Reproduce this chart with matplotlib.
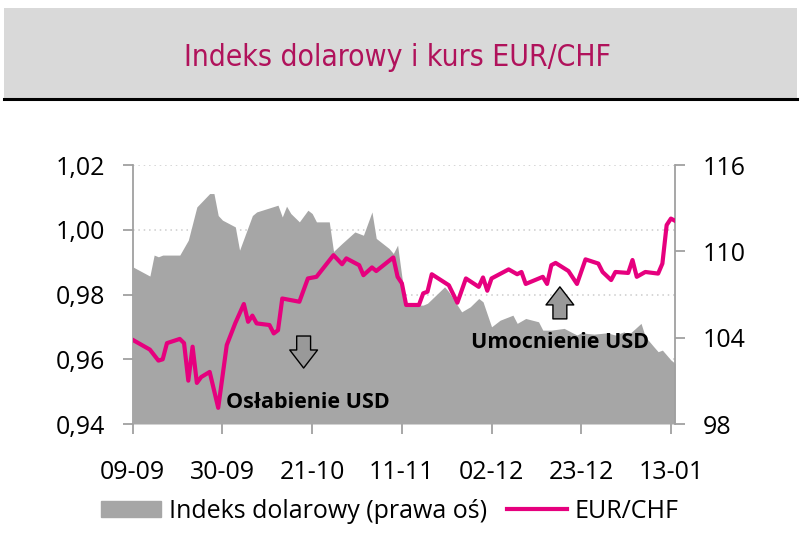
import matplotlib.pyplot as plt
import matplotlib.dates as mdates
import pandas as pd
from matplotlib.patches import Rectangle
from matplotlib.lines import Line2D

# ===== DANE =====
eur_dates = ["2022-09-09", "2022-09-13", "2022-09-15", "2022-09-16", "2022-09-17",
             "2022-09-20", "2022-09-21", "2022-09-22", "2022-09-23", "2022-09-24",
             "2022-09-25", "2022-09-27", "2022-09-29", "2022-10-01", "2022-10-03",
             "2022-10-05", "2022-10-06", "2022-10-07", "2022-10-08", "2022-10-11",
             "2022-10-12", "2022-10-13", "2022-10-14", "2022-10-18", "2022-10-20",
             "2022-10-22", "2022-10-26", "2022-10-28", "2022-10-29", "2022-11-01",
             "2022-11-02", "2022-11-04", "2022-11-05", "2022-11-09", "2022-11-10",
             "2022-11-11", "2022-11-12", "2022-11-15", "2022-11-16", "2022-11-17",
             "2022-11-18", "2022-11-22", "2022-11-24", "2022-11-26", "2022-11-29",
             "2022-11-30", "2022-12-01", "2022-12-02", "2022-12-06", "2022-12-08",
             "2022-12-09", "2022-12-10", "2022-12-14", "2022-12-15", "2022-12-16",
             "2022-12-17", "2022-12-20", "2022-12-22", "2022-12-24", "2022-12-27",
             "2022-12-28", "2022-12-30", "2022-12-31", "2023-01-03", "2023-01-04",
             "2023-01-05", "2023-01-07", "2023-01-10", "2023-01-11", "2023-01-12",
             "2023-01-13", "2023-01-14"]
eur_chf = [0.966, 0.963, 0.9596, 0.960, 0.965,
           0.9663, 0.965, 0.9534, 0.9639, 0.9527,
           0.9545, 0.9561, 0.945, 0.9644, 0.9712,
           0.9771, 0.9716, 0.9735, 0.9711, 0.9706,
           0.968, 0.969, 0.9788, 0.9778, 0.985,
           0.9855, 0.9922, 0.9894, 0.9912, 0.9891,
           0.986, 0.9884, 0.9873, 0.9915, 0.9855,
           0.9835, 0.9768, 0.9768, 0.9804, 0.9809,
           0.9863, 0.9829, 0.9775, 0.985, 0.9824,
           0.9853, 0.9812, 0.985, 0.9878, 0.9863,
           0.987, 0.9833, 0.9855, 0.9833, 0.9891,
           0.9898, 0.9873, 0.9833, 0.9909, 0.9896,
           0.987, 0.9845, 0.987, 0.9867, 0.9907,
           0.9855, 0.987, 0.9865, 0.9896, 1.0015,
           1.0035, 1.0028]

dxy_dates = ["2022-09-09", "2022-09-13", "2022-09-14", "2022-09-15", "2022-09-16",
             "2022-09-20", "2022-09-22", "2022-09-24", "2022-09-27", "2022-09-28",
             "2022-09-29", "2022-09-30", "2022-10-03", "2022-10-04", "2022-10-07",
             "2022-10-08", "2022-10-13", "2022-10-14", "2022-10-15", "2022-10-16",
             "2022-10-18", "2022-10-20", "2022-10-21", "2022-10-22", "2022-10-25",
             "2022-10-26", "2022-10-28", "2022-10-31", "2022-11-02", "2022-11-04",
             "2022-11-05", "2022-11-08", "2022-11-09", "2022-11-10", "2022-11-11",
             "2022-11-12", "2022-11-16", "2022-11-17", "2022-11-21", "2022-11-22",
             "2022-11-25", "2022-11-27", "2022-11-29", "2022-11-30", "2022-12-02",
             "2022-12-04", "2022-12-07", "2022-12-08", "2022-12-10", "2022-12-13",
             "2022-12-14", "2022-12-16", "2022-12-19", "2022-12-21", "2022-12-22",
             "2022-12-23", "2022-12-26", "2022-12-29", "2022-12-31", "2023-01-02",
             "2023-01-03", "2023-01-06", "2023-01-07", "2023-01-09", "2023-01-10",
             "2023-01-11", "2023-01-13", "2023-01-14"]
dxy = [108.93, 108.29, 109.75, 109.63, 109.75,
       109.75, 110.79, 113.1, 114.03, 114.03,
       112.5, 112.18, 111.71, 110.09, 112.5,
       112.75, 113.22, 112.4, 113.15, 112.64,
       112.06, 112.87, 112.64, 112.06, 112.06,
       110.0, 110.56, 111.36, 111.13, 112.75,
       110.91, 110.21, 109.86, 110.44, 108.24,
       106.27, 106.27, 106.4, 107.54, 107.19,
       105.8, 106.15, 106.73, 106.5, 104.76,
       105.22, 105.57, 105.0, 105.34, 105.11,
       104.53, 104.53, 104.65, 104.34, 104.19,
       104.34, 104.25, 104.34, 104.19, 104.41,
       104.19, 105.0, 104.07, 103.37, 103.03,
       103.14, 102.45, 102.21]

left_ticks = [0.94, 0.96, 0.98, 1.00, 1.02]
right_ticks = [98, 104, 110, 116]

pink = "#e6007e"
gray = "#a6a6a6"
font = "Open Sans"

eur_x = pd.to_datetime(eur_dates)
dxy_x = pd.to_datetime(dxy_dates)
x_ticks = pd.date_range("2022-09-09", "2023-01-13", freq="21D")

fig = plt.figure(figsize=(8, 5.33), dpi=100)

# ===== RAMKA TYTUŁU =====
fig.patches.append(Rectangle((0.005, 0.817), 0.991, 0.168, transform=fig.transFigure,
                             facecolor="#d9d9d9", edgecolor="none", zorder=0))
fig.lines.append(Line2D([0.005, 0.996], [0.815, 0.815], transform=fig.transFigure,
                        color="black", lw=2.2))
fig.text(0.497, 0.893, "Indeks dolarowy i kurs EUR/CHF", ha="center", va="center",
         fontsize=21.5, color="#b0125b", family="DejaVu Sans", fontstretch="condensed")

# ===== OSIE =====
rect = [0.166, 0.2045, 0.678, 0.4855]
ax = fig.add_axes(rect)                 # lewa oś + siatka
ax2 = ax.twinx()                        # indeks dolarowy (prawa oś)
ax3 = ax.twinx()                        # EUR/CHF na skali lewej osi
ax2.set_zorder(2)
ax3.set_zorder(3)
ax2.patch.set_visible(False)
ax3.patch.set_visible(False)

ax2.fill_between(dxy_x, dxy, 98, color=gray, lw=0)
ax2.set_ylim(98, 116)
ax2.set_yticks(right_ticks)

ax3.plot(eur_x, eur_chf, color=pink, lw=3.0, solid_joinstyle="round")
ax3.set_ylim(0.94, 1.02)
ax3.set_yticks([])

ax.set_ylim(0.94, 1.02)
ax.set_yticks(left_ticks)
ax.set_yticklabels([f"{v:.2f}".replace(".", ",") for v in left_ticks])
ax.grid(axis="y", color="#cccccc", ls=(0, (1, 2.5)), lw=1.1)

for a in (ax, ax2, ax3):
    a.set_xlim(pd.Timestamp("2022-09-09"), pd.Timestamp("2023-01-14"))
    for s in a.spines.values():
        s.set_visible(False)

ax.set_xticks(x_ticks)
ax.xaxis.set_major_formatter(mdates.DateFormatter("%d-%m"))
ax.spines["left"].set_visible(True)
ax.spines["left"].set_color("#a0a0a0")
ax.spines["left"].set_linewidth(1.3)
ax2.spines["right"].set_visible(True)
ax2.spines["right"].set_color("#a0a0a0")
ax2.spines["right"].set_linewidth(1.3)

for a in (ax, ax2):
    a.tick_params(axis="both", length=7, width=1.3, color="#a0a0a0", pad=13,
                  labelsize=18)
    for lab in a.get_xticklabels() + a.get_yticklabels():
        lab.set_family(font)
ax.tick_params(axis="x", pad=19)

# ===== ADNOTACJE =====
arrow = dict(arrowstyle="simple,head_width=2.0,head_length=1.3,tail_width=1.0",
             fc="#999999", ec="black", lw=1, shrinkA=0, shrinkB=0)
ax3.annotate("", xy=(pd.Timestamp("2022-10-19"), 0.9573),
             xytext=(pd.Timestamp("2022-10-19"), 0.9672), arrowprops=arrow)
ax3.annotate("", xy=(pd.Timestamp("2022-12-18"), 0.9824),
             xytext=(pd.Timestamp("2022-12-18"), 0.9725), arrowprops=arrow)
ax3.text(pd.Timestamp("2022-10-20"), 0.9465, "Osłabienie USD", ha="center", va="center",
         fontsize=15.5, fontweight="bold", family=font)
ax3.text(pd.Timestamp("2022-12-18"), 0.9653, "Umocnienie USD", ha="center", va="center",
         fontsize=15.5, fontweight="bold", family=font)

# ===== LEGENDA =====
handles = [Rectangle((0, 0), 1, 1, color=gray), Line2D([], [], color=pink, lw=3.0)]
fig.legend(handles, ["Indeks dolarowy (prawa oś)", "EUR/CHF"], loc="center",
           bbox_to_anchor=(0.487, 0.041), ncol=2, frameon=False,
           prop={"family": font, "size": 18}, handlelength=2.4, handleheight=0.6,
           columnspacing=0.8, handletextpad=0.3)

fig.savefig("out.png", dpi=100)
